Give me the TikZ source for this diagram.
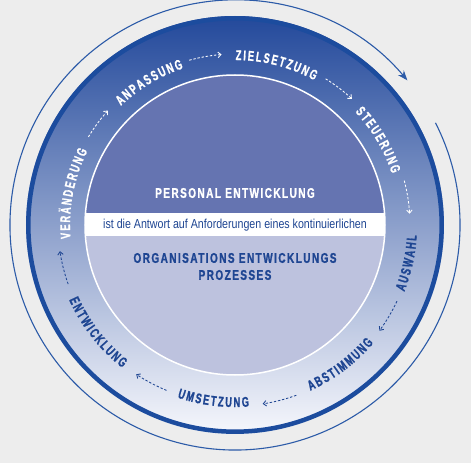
\documentclass[tikz,border=0pt]{standalone}
\usepackage{fontspec}
\setmainfont{Liberation Sans}
\newfontfamily\lblfont{Liberation Sans}[FakeStretch=0.66,FakeBold=1.2]
\newfontfamily\innfont{Liberation Sans}[FakeStretch=0.72,LetterSpace=10,FakeBold=1]
\newfontfamily\bandfont{Liberation Sans}[FakeStretch=0.82]
\newcommand\lblfmt{\lblfont\bfseries\fontsize{14}{16}\selectfont}
\usetikzlibrary{arrows.meta}
\definecolor{bgc}{HTML}{EDEDED}
\definecolor{ringedge}{HTML}{1C4C9E}
\definecolor{ringtop}{HTML}{23499B}
\definecolor{ringmid}{HTML}{8090C6}
\definecolor{ringbot}{HTML}{F6F7FC}
\definecolor{innertop}{HTML}{6574B1}
\definecolor{innerbot}{HTML}{BDC2DE}
\definecolor{darktext}{HTML}{1E4592}
\definecolor{arcblue}{HTML}{2C5BA8}
\tikzset{
  dasharr/.style={line width=0.85pt, dash pattern=on 2.4pt off 1.8pt,
    -{Straight Barb[length=3pt,width=5.5pt]}},
  ringchar/.style={inner sep=0pt, anchor=base, font=\lblfmt},
}
\newcount\rlcount
\newcommand\rlplace[5]{%
  \global\advance\rlcount by 1
  \node[ringchar, text=#4, rotate=#3] (rlc\the\rlcount) at (#1:#2) {#5};}
\ExplSyntaxOn
\prop_new:N \g__rl_w_prop
\prop_gset_from_keyval:Nn \g__rl_w_prop
 { A=722, B=722, C=722, D=722, E=667, G=778, H=722, I=278, K=722, L=611,
   M=833, N=722, P=667, R=722, S=667, T=611, U=722, V=667, W=944, Z=611, Ä=722 }
\fp_new:N \l__rl_total_fp
\fp_new:N \l__rl_pos_fp
\fp_new:N \l__rl_w_fp
\fp_new:N \l__rl_ang_fp
\fp_const:Nn \c__rl_scale_fp {0.00924}
\fp_const:Nn \c__rl_ls_fp {1.8}
\NewDocumentCommand \arclabel {m m m m m}
 {
  \fp_zero:N \l__rl_total_fp
  \tl_map_inline:nn {#5}
   {
    \fp_add:Nn \l__rl_total_fp
      {\prop_item:Nn \g__rl_w_prop {##1} * \c__rl_scale_fp + \c__rl_ls_fp}
   }
  \fp_sub:Nn \l__rl_total_fp {\c__rl_ls_fp}
  \fp_set:Nn \l__rl_pos_fp {-0.5 * \l__rl_total_fp}
  \tl_map_inline:nn {#5}
   {
    \fp_set:Nn \l__rl_w_fp {\prop_item:Nn \g__rl_w_prop {##1} * \c__rl_scale_fp}
    \fp_set:Nn \l__rl_ang_fp
      {#1 + (#3) * (\l__rl_pos_fp + 0.5 * \l__rl_w_fp) * 57.29578 / (#2)}
    \edef\rlang{\fp_eval:n {round(\l__rl_ang_fp, 4)}}
    \edef\rlrot{\fp_eval:n {round(\l__rl_ang_fp + (#3)*90, 4)}}
    \rlplace{\rlang}{#2}{\rlrot}{#4}{##1}
    \fp_add:Nn \l__rl_pos_fp {\l__rl_w_fp + \c__rl_ls_fp}
   }
 }
\ExplSyntaxOff
\newcommand\ringarrow[4]{%
  \coordinate (#1) at ({#2+5.5}:#3);
  \draw[dasharr,#4] (#1) arc[start angle={#2+5.5},end angle={#2-5.5},radius=#3];}
\begin{document}
\begin{tikzpicture}[x=1pt,y=1pt]
\useasboundingbox (-235,-238) rectangle (236,225);
\fill[bgc] (-235,-238) rectangle (236,225);
% outer thin arc with arrow
\coordinate (arcstart) at (27:225);
\draw[arcblue, line width=1.1pt, -{Stealth[length=10pt,width=7.5pt]}]
  (arcstart) arc[start angle=27, end angle=-320, radius=225];
% ring
\shade[top color=ringtop, middle color=ringmid, bottom color=ringbot]
  (0,0) circle[radius=209];
\draw[ringedge, line width=4.5pt] (0,0) circle[radius=206.7];
% inner disc
\begin{scope}
  \clip (0,0) circle[radius=150];
  \fill[innertop] (-150,0) rectangle (150,150);
  \fill[innerbot] (-150,-150) rectangle (150,0);
  \fill[white] (-150,-11) rectangle (150,12);
\end{scope}
\draw[white, line width=1.5pt] (0,0) circle[radius=150];
% inner texts
\node[text=white, font=\innfont\bfseries\fontsize{14}{16}\selectfont] (pe) at (0,32) {PERSONAL ENTWICKLUNG};
\node[text=darktext, font=\bandfont\fontsize{13}{15}\selectfont] (band) at (0,0) {ist die Antwort auf Anforderungen eines kontinuierlichen};
\node[text=darktext, font=\innfont\bfseries\fontsize{14}{16}\selectfont] (oe) at (0,-33) {ORGANISATIONS ENTWICKLUNGS};
\node[text=darktext, font=\innfont\bfseries\fontsize{14}{16}\selectfont] (pz) at (0,-50) {PROZESSES};
% ring labels
\arclabel{169}{165}{-1}{white}{VERÄNDERUNG}
\arclabel{121}{165}{-1}{white}{ANPASSUNG}
\arclabel{75.5}{165}{-1}{white}{ZIELSETZUNG}
\arclabel{30.7}{165}{-1}{white}{STEUERUNG}
\arclabel{-12.4}{182}{1}{darktext}{AUSWAHL}
\arclabel{-53}{182}{1}{darktext}{ABSTIMMUNG}
\arclabel{-97}{182}{1}{darktext}{UMSETZUNG}
\arclabel{-142}{182}{1}{darktext}{ENTWICKLUNG}
% dashed arrows
\ringarrow{a1}{143.5}{171}{white}
\ringarrow{a2}{100}{171}{white}
\ringarrow{a3}{52.7}{172}{white}
\ringarrow{a4}{9.2}{175}{white}
\ringarrow{a5}{-30.7}{179}{darktext}
\ringarrow{a6}{-75.7}{181}{darktext}
\ringarrow{a7}{-118}{179}{darktext}
\ringarrow{a8}{-166}{177}{darktext}
\end{tikzpicture}
\end{document}
